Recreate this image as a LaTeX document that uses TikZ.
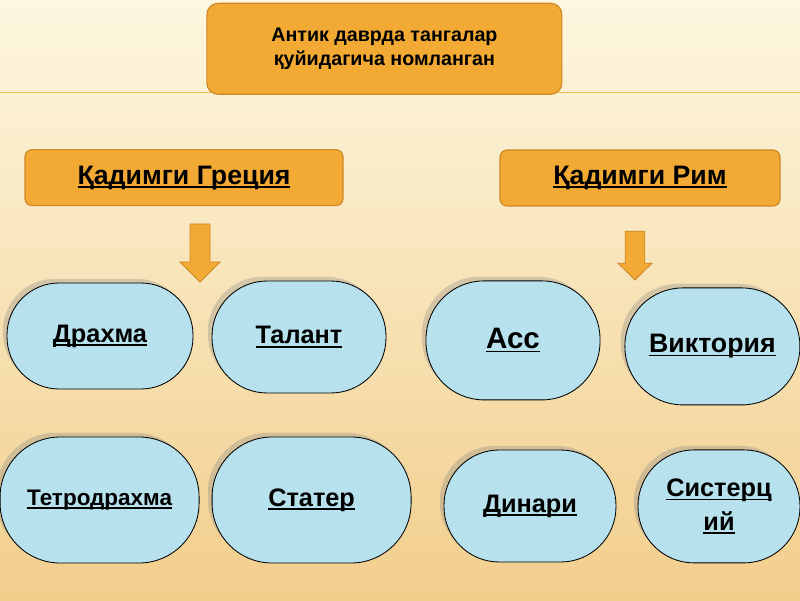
\documentclass[tikz,border=0pt]{standalone}
\usepackage{fontspec}
\setmainfont{Liberation Sans}
\usetikzlibrary{shadows}
\definecolor{boxorange}{RGB}{242,170,52}
\definecolor{boxedge}{RGB}{205,135,40}
\definecolor{coinblue}{RGB}{182,225,237}
\definecolor{bgtop}{RGB}{253,247,224}
\definecolor{bgbottom}{RGB}{242,206,140}
\newcommand\coinul[1]{\setbox0\hbox{#1}\leavevmode\rlap{\rule[-2.6pt]{\wd0}{1.2pt}}\box0}
\begin{document}
\begin{tikzpicture}[
            topbox/.style={draw=boxedge, fill=boxorange, rounded corners=8pt, line width=0.8pt, minimum width=8.875cm, minimum height=2.275cm, align=center, font=\bfseries\fontsize{14}{17}\selectfont},
            header/.style={draw=boxedge, fill=boxorange, rounded corners=5pt, line width=0.8pt, minimum height=1.4cm, font=\bfseries\fontsize{19}{22}\selectfont},
            coin/.style={draw=black, fill=coinblue, line width=0.6pt, align=center, inner sep=0pt, font=\bfseries\fontsize{18}{24}\selectfont, drop shadow={shadow xshift=-3pt, shadow yshift=3pt, fill=black!50, opacity=0.3}},
            blockarrow/.style={fill=boxorange, draw=boxedge, line width=0.6pt}
            ]
            \useasboundingbox (0,0) rectangle (20,15);
            \shade[top color=bgtop, bottom color=bgbottom] (0,0) rectangle (20,15);
            \draw[boxorange!85, line width=0.6pt] (0,12.7) -- (20,12.7);
            \node[topbox] (title) at (9.61,13.78) {Антик даврда тангалар\\қуйидагича номланган};
            \node[header, minimum width=7.95cm] (greece) at (4.6,10.56) {\coinul{Қадимги Греция}};
            \node[header, minimum width=7cm] (rome) at (16,10.55) {\coinul{Қадимги Рим}};
            \filldraw[blockarrow] (4.75,9.4) -- (5.25,9.4) -- (5.25,8.45) -- (5.5,8.45) -- (5,7.95) -- (4.5,8.45) -- (4.75,8.45) -- cycle;
            \filldraw[blockarrow] (15.63,9.22) -- (16.12,9.22) -- (16.12,8.42) -- (16.3,8.42) -- (15.875,8.0) -- (15.45,8.42) -- (15.63,8.42) -- cycle;
            \node[coin, rounded corners=1.3cm, minimum width=4.65cm, minimum height=2.65cm] (drachma) at (2.5,6.6) {\coinul{Драхма}};
            \node[coin, rounded corners=1.38cm, minimum width=4.35cm, minimum height=2.8cm] (talent) at (7.475,6.575) {\coinul{Талант}};
            \node[coin, rounded corners=1.45cm, minimum width=4.35cm, minimum height=2.975cm, font=\bfseries\fontsize{21}{24}\selectfont] (as) at (12.825,6.49) {\coinul{Асс}};
            \node[coin, rounded corners=1.45cm, minimum width=4.375cm, minimum height=2.925cm, font=\bfseries\fontsize{19}{24}\selectfont] (victoria) at (17.81,6.34) {\coinul{Виктория}};
            \node[coin, rounded corners=1.5cm, minimum width=4.975cm, minimum height=3.15cm, font=\bfseries\fontsize{16}{20}\selectfont] (tetra) at (2.49,2.5) {\coinul{Тетродрахма}};
            \node[coin, rounded corners=1.5cm, minimum width=4.975cm, minimum height=3.15cm] (stater) at (7.79,2.5) {\coinul{Статер}};
            \node[coin, rounded corners=1.38cm, minimum width=4.3cm, minimum height=2.8cm] (denarius) at (13.25,2.35) {\coinul{Динари}};
            \node[coin, rounded corners=1.4cm, minimum width=4.05cm, minimum height=2.825cm] (sestertius) at (17.975,2.34) {\coinul{Систерц}\\\coinul{ий}};
\end{tikzpicture}
\end{document}
